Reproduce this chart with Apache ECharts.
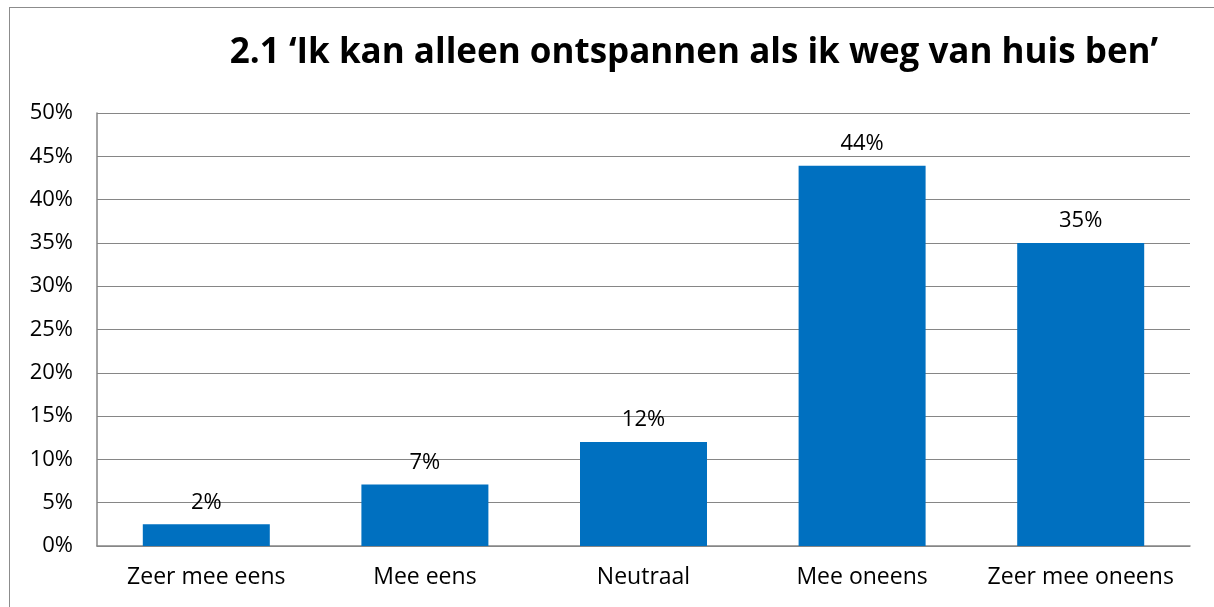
<!DOCTYPE html>
<html>
<head>
<meta charset="utf-8">
<script src="https://cdn.jsdelivr.net/npm/echarts@6/dist/echarts.min.js"></script>
<style>
  html, body { margin: 0; padding: 0; background: #fff; }
  #frame { position: absolute; left: 9px; top: 7px; width: 1240px; height: 640px; border: 1px solid #8c8c8c; }
  #main { position: absolute; left: 0; top: 0; width: 1214px; height: 607px; }
</style>
</head>
<body>
<div id="frame"></div>
<div id="main"></div>
<script>
var categories = ['Zeer mee eens', 'Mee eens', 'Neutraal', 'Mee oneens', 'Zeer mee oneens'];
var values = [2.5, 7.1, 12.0, 43.9, 35.0];
var valueLabels = ['2%', '7%', '12%', '44%', '35%'];
var yTicks = [0, 5, 10, 15, 20, 25, 30, 35, 40, 45, 50];

var font = 'Open Sans, Liberation Sans, sans-serif';
var chart = echarts.init(document.getElementById('main'));
chart.setOption({
  animation: false,
  title: {
    text: '2.1 \u2018Ik kan alleen ontspannen als ik weg van huis ben\u2019',
    left: 689,
    textAlign: 'center',
    top: 31,
    textStyle: { fontFamily: font, fontSize: 35, fontWeight: 'bold', color: '#000' }
  },
  grid: { left: 97, right: 24, top: 113, bottom: 61 },
  xAxis: {
    type: 'category',
    data: categories,
    axisTick: { show: false },
    axisLine: { lineStyle: { color: '#868686', width: 1.5 } },
    axisLabel: { color: '#000', fontSize: 23, fontFamily: font, margin: 20, interval: 0 }
  },
  yAxis: {
    type: 'value',
    min: yTicks[0],
    max: yTicks[yTicks.length - 1],
    interval: 5,
    axisLine: { show: true, lineStyle: { color: '#868686', width: 1.5 } },
    axisTick: { show: false },
    splitLine: { lineStyle: { color: '#868686', width: 1.2 } },
    axisLabel: { color: '#000', fontSize: 22, fontFamily: font, margin: 24, formatter: '{value}%' }
  },
  series: [{
    type: 'bar',
    data: values,
    barWidth: 127,
    itemStyle: { color: '#0070c0' },
    label: {
      show: true,
      position: 'top',
      distance: 11,
      color: '#000',
      fontSize: 22,
      fontFamily: font,
      formatter: function (p) { return valueLabels[p.dataIndex]; }
    }
  }]
});
</script>
</body>
</html>
